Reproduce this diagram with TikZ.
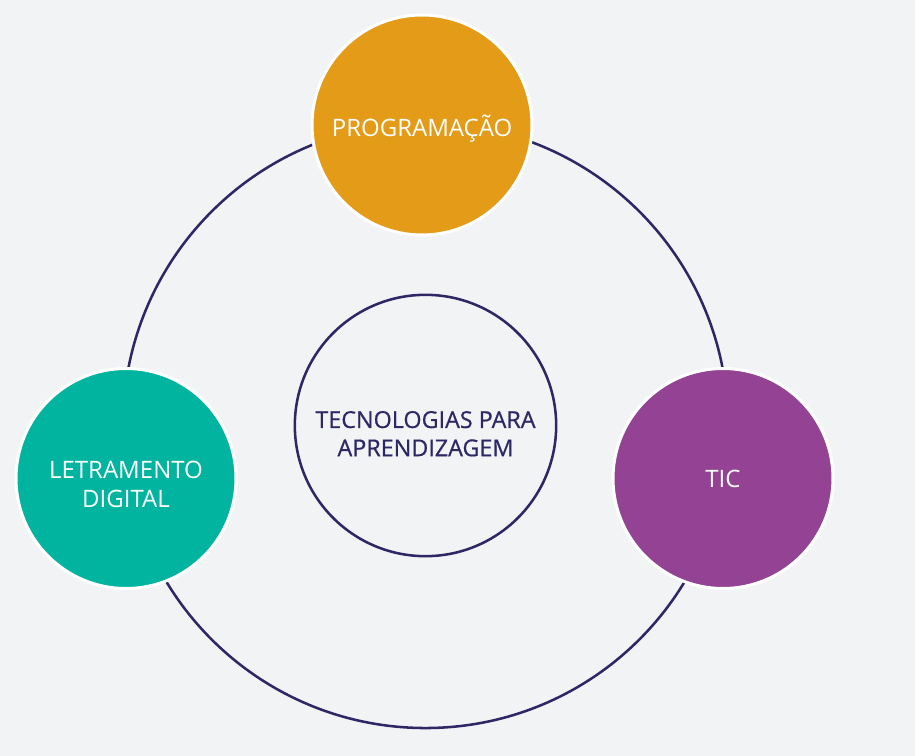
\documentclass[tikz,border=0pt]{standalone}
\usepackage{fontspec}
\setmainfont{Open Sans}
\newfontfamily\hubfont[FakeBold=0.6]{Open Sans}

\definecolor{paper}{HTML}{F2F3F5}
\definecolor{ringblue}{HTML}{2E2766}
\definecolor{progorange}{HTML}{E39B18}
\definecolor{letrgreen}{HTML}{00B4A0}
\definecolor{ticpurple}{HTML}{934294}

\tikzset{
    topic/.style = {circle, draw = white, line width = 2.25pt, minimum size = 165pt,
        inner sep = 0pt},
    topictext/.style = {text = white, align = center, inner sep = 0pt,
        font = \fontsize{18}{21.5}\selectfont},
}

\begin{document}
\begin{tikzpicture}[x = 0.75pt, y = -0.75pt]
            % Draw the background:
            \fill [paper] (0,0) rectangle (915,756);
            \useasboundingbox (0,0) rectangle (915,756);

            % Draw the hub and the ring:
            \node [circle, draw = ringblue, line width = 1.9pt, minimum size = 196pt]
                (Hub) at (425.5,425.5) {};
            \node [align = center, inner sep = 0pt, text = ringblue,
                font = \hubfont\fontsize{17.5}{21.2}\selectfont]
                (HubText) at ([yshift = -6.2pt]Hub.center) {TECNOLOGIAS PARA\\APRENDIZAGEM};
            \draw [ringblue, line width = 1.9pt] (Hub.center) circle (226.9pt);

            % Draw the three topics on the ring:
            \node [topic, fill = progorange] (Prog) at (422,125)   {};
            \node [topic, fill = letrgreen]  (Letr) at (126,478.5) {};
            \node [topic, fill = ticpurple]  (Tic)  at (723,478.5) {};

            \node [topictext] (ProgText) at ([yshift = -2.8pt]Prog.center) {PROGRAMAÇÃO};
            \node [topictext] (LetrText) at ([yshift = -4.5pt]Letr.center) {LETRAMENTO\\DIGITAL};
            \node [topictext] (TicText)  at (Tic.center) {TIC};
\end{tikzpicture}
\end{document}
